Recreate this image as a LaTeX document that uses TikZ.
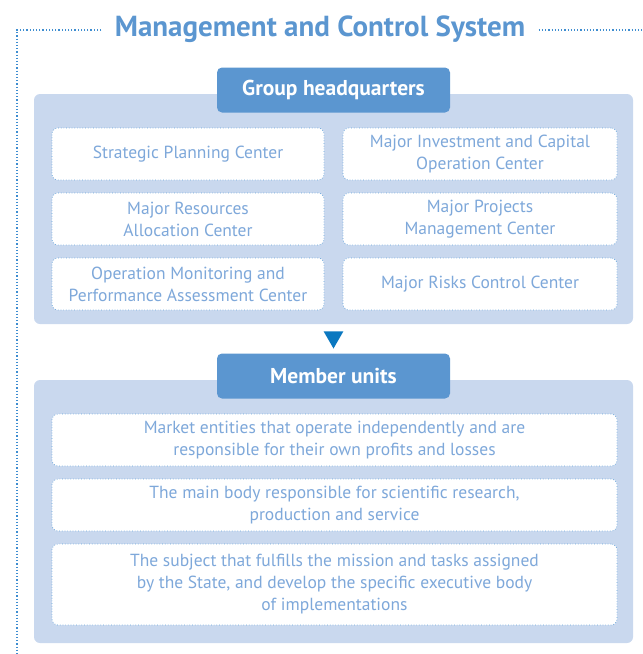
\documentclass[tikz,border=0pt]{standalone}
\usepackage{fontspec}
\setmainfont{PT Sans}
\usepackage{tikz}
\usetikzlibrary{shapes.geometric, positioning}
\definecolor{mcblue}{HTML}{5B96D0}
\definecolor{mcpanel}{HTML}{C9D8EE}
\definecolor{mctext}{HTML}{7EA8DA}
\definecolor{mcline}{HTML}{3E8DD0}
\definecolor{mcdark}{HTML}{0B78C0}
\tikzstyle{panel} = [rectangle, rounded corners=6pt, fill=mcpanel, minimum width=599pt]
\tikzstyle{tab} = [rectangle, rounded corners=5pt, fill=mcblue, text=white, minimum width=233pt, minimum height=45pt, font=\fontsize{21.5}{24}\selectfont\bfseries]
\tikzstyle{unit} = [rectangle, rounded corners=6pt, draw=mcline!80, dotted, line width=0.7pt, fill=white, text=mctext, text centered, align=center, minimum height=52pt, font=\fontsize{17.5}{22}\selectfont]
\tikzstyle{frame} = [mcline, dotted, line width=1.2pt]

\begin{document}
\begin{tikzpicture}[x=1pt, y=-1pt]
		\useasboundingbox (0,0) rectangle (643,654);
		\node (title) at (320,29) [text=mcblue, font=\fontsize{29}{32}\selectfont\bfseries] {Management and Control System};
		\coordinate (fl) at (17,30);
		\coordinate (fb) at (17,660);
		\coordinate (fr) at (650,30);
		\draw [frame] ([xshift=-10pt]title.west |- fl) -- (fl) -- (fb);
		\draw [frame] ([xshift=10pt]title.east |- fr) -- (fr);

		% group headquarters
		\node (hq) [panel, minimum height=230pt] at (333.5,209) {};
		\node (hqtab) [tab] at (333.5,90) {Group headquarters};
		\node (c1) [unit, minimum width=272pt] at (188,154) {Strategic Planning Center};
		\node (c2) [unit, minimum width=274pt] at (480,154) {Major Investment and Capital\\Operation Center};
		\node (c3) [unit, minimum width=272pt] at (188,219) {Major Resources\\Allocation Center};
		\node (c4) [unit, minimum width=274pt] at (480,219) {Major Projects\\Management Center};
		\node (c5) [unit, minimum width=272pt] at (188,284) {Operation Monitoring and\\Performance Assessment Center};
		\node (c6) [unit, minimum width=274pt] at (480,284) {Major Risks Control Center};

		% member units
		\node (arr) [regular polygon, regular polygon sides=3, shape border rotate=180, fill=mcdark, minimum size=23pt, inner sep=0pt] at (333.5,337) {};
		\node (mu) [panel, minimum height=263pt] at (333.5,511.5) {};
		\node (mutab) [tab] at (333.5,376) {Member units};
		\node (m1) [unit, minimum width=565pt] at (334.5,440) {Market entities that operate independently and are\\responsible for their own profits and losses};
		\node (m2) [unit, minimum width=565pt] at (334.5,505) {The main body responsible for scientific research,\\production and service};
		\node (m3) [unit, minimum width=565pt, minimum height=81pt] at (334.5,584.5) {The subject that fulfills the mission and tasks assigned\\by the State, and develop the specific executive body\\of implementations};
		\end{tikzpicture}
\end{document}
